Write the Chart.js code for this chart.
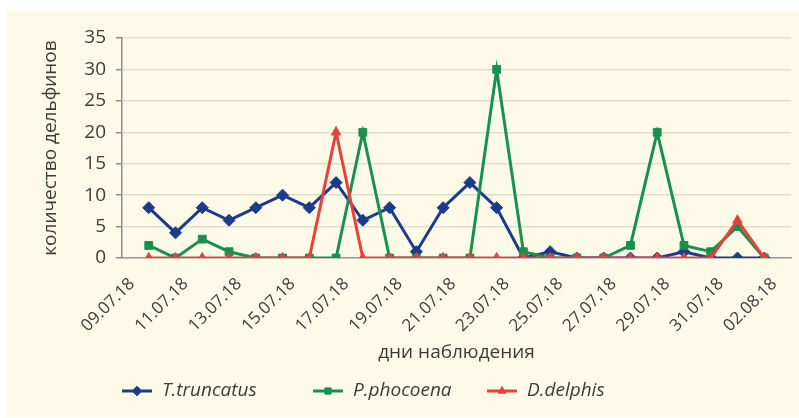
<!DOCTYPE html>
<html>
<head>
<meta charset="utf-8">
<script src="https://cdn.jsdelivr.net/npm/chart.js@4.4.1/dist/chart.umd.min.js"></script>
<style>
  html, body { margin: 0; padding: 0; background: #ffffff; }
  canvas { display: block; }
</style>
</head>
<body>
<canvas id="chart" width="799" height="418"></canvas>
<script>
// Observation days (daily, 09.07.18 – 03.08.18)
const days = [
  '09.07.18', '10.07.18', '11.07.18', '12.07.18', '13.07.18', '14.07.18', '15.07.18',
  '16.07.18', '17.07.18', '18.07.18', '19.07.18', '20.07.18', '21.07.18', '22.07.18',
  '23.07.18', '24.07.18', '25.07.18', '26.07.18', '27.07.18', '28.07.18', '29.07.18',
  '30.07.18', '31.07.18', '01.08.18', '02.08.18', '03.08.18'
];

// Dolphin counts per day
const truncatus = [null, 8, 4, 8, 6, 8, 10, 8, 12, 6, 8, 1, 8, 12, 8, 0, 1, 0, 0, 0, 0, 1, 0, 0, 0, null];
const phocoena  = [null, 2, 0, 3, 1, 0, 0, 0, 0, 20, 0, 0, 0, 0, 30, 1, 0, 0, 0, 2, 20, 2, 1, 5, 0, null];
const delphis   = [null, 0, 0, 0, 0, 0, 0, 0, 20, 0, 0, 0, 0, 0, 0, 0, 0, 0, 0, 0, 0, 0, 0, 6, 0, null];

// Y axis ticks
const yTicks = [0, 5, 10, 15, 20, 25, 30, 35];

const seriesNames = ['T.truncatus', 'P.phocoena', 'D.delphis'];

const FONT = "'Open Sans', 'Noto Sans', sans-serif";
const TEXT = '#3c3c3c';
const BLUE = '#1d3b8d';
const GREEN = '#17914d';
const RED = '#e8403a';
const PAPER = '#fdfae8';

Chart.defaults.font.family = FONT;
Chart.defaults.color = TEXT;

// Cream panel behind the chart
const panel = {
  id: 'panel',
  beforeDraw(chart) {
    const ctx = chart.ctx;
    ctx.save();
    ctx.fillStyle = '#ffffff';
    ctx.fillRect(0, 0, chart.width, chart.height);
    ctx.fillStyle = PAPER;
    ctx.fillRect(6, 11, chart.width - 6, chart.height - 12);
    ctx.restore();
  }
};

// Legend row: line sample with marker, then italic series name
const lineLegend = {
  id: 'lineLegend',
  afterDraw(chart) {
    const ctx = chart.ctx;
    const xs = [122, 313, 487];
    const y = 391;
    ctx.save();
    chart.data.datasets.forEach((ds, i) => {
      const x0 = xs[i];
      ctx.strokeStyle = ds.borderColor;
      ctx.lineWidth = 3;
      ctx.beginPath();
      ctx.moveTo(x0, y);
      ctx.lineTo(x0 + 30, y);
      ctx.stroke();
      ctx.fillStyle = ds.borderColor;
      ctx.lineWidth = 1;
      Chart.helpers.drawPoint(ctx, {
        pointStyle: ds.pointStyle,
        radius: ds.pointRadius * 0.8,
        rotation: 0,
        borderWidth: 1
      }, x0 + 15, y);
      ctx.fillStyle = TEXT;
      ctx.font = 'italic 19px ' + FONT;
      ctx.textBaseline = 'middle';
      ctx.textAlign = 'left';
      ctx.fillText(ds.label, x0 + 40, y);
    });
    ctx.restore();
  }
};

const makeSeries = (label, data, color, style, radius, order) => ({
  label,
  data,
  borderColor: color,
  backgroundColor: color,
  pointBackgroundColor: color,
  pointBorderColor: color,
  borderWidth: 3,
  pointStyle: style,
  pointRadius: radius,
  pointBorderWidth: 1,
  tension: 0,
  spanGaps: false,
  order
});

new Chart(document.getElementById('chart'), {
  type: 'line',
  data: {
    labels: days,
    datasets: [
      makeSeries(seriesNames[0], truncatus, BLUE, 'rectRot', 6, 3),
      makeSeries(seriesNames[1], phocoena, GREEN, 'rect', 5.5, 2),
      makeSeries(seriesNames[2], delphis, RED, 'triangle', 5.5, 1)
    ]
  },
  options: {
    responsive: false,
    devicePixelRatio: 1,
    animation: false,
    layout: { padding: { left: 6, right: 8, top: 38, bottom: 0 } },
    plugins: {
      legend: { display: false },
      tooltip: { enabled: false }
    },
    scales: {
      x: {
        offset: false,
        grid: { display: false, drawTicks: false },
        border: { display: true, color: '#9a9a9a', width: 1.5 },
        ticks: {
          autoSkip: false,
          maxRotation: 45,
          minRotation: 45,
          padding: 16,
          labelOffset: 10,
          color: TEXT,
          font: { size: 17 },
          callback: (v, i) => (i % 2 === 0 ? days[i] : '')
        },
        title: {
          display: true,
          text: 'дни наблюдения',
          color: TEXT,
          font: { size: 19 },
          padding: { bottom: 54 }
        },
        afterFit(scale) {
          scale.height = 160;
          scale.paddingLeft = 0;
          scale.paddingRight = 0;
        }
      },
      y: {
        min: 0,
        max: 35,
        afterBuildTicks(scale) { scale.ticks = yTicks.map(v => ({ value: v })); },
        grid: { color: '#e1ddc8', lineWidth: 1.5, tickLength: 6, tickColor: '#8c8c8c' },
        border: { display: true, color: '#8c8c8c', width: 1.5 },
        ticks: { padding: 10, color: TEXT, font: { size: 19 } },
        title: {
          display: true,
          text: 'количество дельфинов',
          color: TEXT,
          font: { size: 19 },
          padding: { top: 33 }
        },
        afterFit(scale) {
          scale.width = 116;
          scale.paddingTop = 0;
          scale.paddingBottom = 0;
        }
      }
    }
  },
  plugins: [panel, lineLegend]
});
</script>
</body>
</html>
